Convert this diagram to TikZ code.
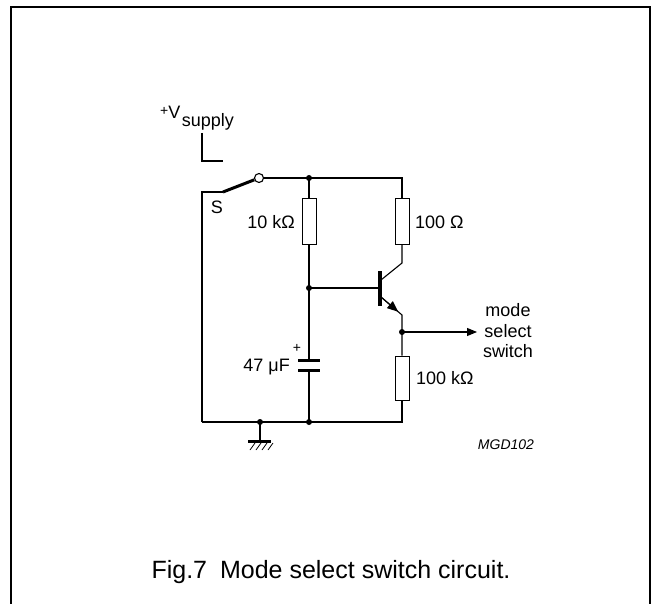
\documentclass[tikz,border=0pt]{standalone}
\usepackage{fontspec}
\setmainfont{Liberation Sans}
\usetikzlibrary{arrows.meta,calc}

\tikzset{
  wire/.style={line width=1.1pt},
  res/.style={draw,line width=1pt,minimum width=14pt,minimum height=45pt,inner sep=0pt},
  dot/.style={circle,fill,inner sep=0pt,minimum size=6pt},
  lbl/.style={font=\fontsize{18}{18}\selectfont,inner sep=0pt},
}

\begin{document}
\begin{tikzpicture}[x=1pt,y=-1pt]
\useasboundingbox (0,0) rectangle (653,604);

\draw[line width=1.5pt] (11,604) -- (11,7) -- (650,7) -- (650,604);

% points of the circuit
\coordinate (vs1) at (202,133);
\coordinate (vs2) at (202,161);
\coordinate (vs3) at (223,161);
\coordinate (sa) at (223,192);
\coordinate (sl) at (202,192);
\node[circle,draw,line width=1.1pt,minimum size=9pt,inner sep=0pt] (sw) at (259,178) {};
\coordinate (jt) at (309,178);
\coordinate (ct) at (402,178);
\node[res] (r1) at (309,221.5) {};
\node[res] (r2) at (402,221.5) {};
\coordinate (jb) at (309,288);
\coordinate (bb) at (380,288);
\coordinate (bt) at (380,271);
\coordinate (bl) at (380,306);
\coordinate (c1) at (402,263);
\coordinate (c2) at (381,280);
\coordinate (e1) at (381,297);
\coordinate (e2) at (402,315);
\coordinate (je) at (402,332);
\coordinate (out) at (477,332);
\node[res,minimum height=44pt] (r3) at (402,378) {};
\coordinate (cp1) at (309,360);
\coordinate (cp2) at (309,370);
\coordinate (gr) at (402,422);
\coordinate (gc) at (309,422);
\coordinate (gg) at (260,422);
\coordinate (gl) at (202,422);
\coordinate (gb) at (260,441);

% supply and switch
\draw[wire] (vs1) -- (vs2) -- (vs3);
\draw[wire] (gl) -- (sl) -- (sa);
\draw[line width=3pt] (sa) -- (sw.201);
\draw[wire] (sw.east) -- (jt) -- (ct) -- (r2.north);

% left branch
\draw[wire] (jt) -- (r1.north);
\draw[wire] (r1.south) -- (jb) -- (cp1);
\draw[line width=3pt] ($(cp1)+(-11,0)$) -- ($(cp1)+(11,0)$);
\draw[line width=3pt] ($(cp2)+(-11,0)$) -- ($(cp2)+(11,0)$);
\draw[wire] (cp2) -- (gc);

% transistor
\draw[wire] (jb) -- (bb);
\draw[line width=4pt] (bt) -- (bl);
\draw[wire] (r2.south) -- (c1) -- (c2);
\draw[wire] (e1) -- (e2) -- (je) -- (r3.north);
\draw[wire,-{Triangle[length=11pt,width=9pt]}] (e1) -- ($(e1)!0.82!(e2)$);
\draw[wire,-{Triangle[length=10pt,width=8pt]}] (je) -- (out);

% ground
\draw[wire] (r3.south) -- (gr) -- (gc) -- (gg) -- (gl);
\draw[wire] (gg) -- (gb);
\draw[line width=3pt] ($(gb)+(-12,0)$) -- ($(gb)+(11,0)$);
\foreach \x in {250,256,262,268}
  \draw[line width=0.8pt] (\x,450) -- (\x+5,443);

\foreach \p in {jt,jb,je,gc,gg}
  \node[dot] at (\p) {};

% labels
\node[anchor=base west,inner sep=0pt] (vlbl) at (160,119)
  {\fontsize{14}{14}\selectfont\raisebox{3pt}{+}\fontsize{18}{18}\selectfont V\kern1.5pt\raisebox{-8pt}{supply}};
\node[lbl,anchor=base] (slbl) at (217,214) {S};
\node[lbl,anchor=base east] (r1lbl) at (295,228.5) {10 kΩ};
\node[lbl,anchor=base west] (r2lbl) at (415,228.5) {100 Ω};
\node[lbl,anchor=base east] (clbl) at (290,371.5) {47 μF};
\node[font=\fontsize{14}{14}\selectfont,inner sep=0pt] (cplus) at (297,348) {+};
\node[lbl,anchor=base west] (r3lbl) at (416,384.5) {100 kΩ};
\node[lbl,align=center,font=\fontsize{18}{20.5}\selectfont] (olbl) at (508,331) {mode\\select\\switch};
\node[font=\fontsize{14}{14}\selectfont\itshape,inner sep=0pt] (code) at (506,445) {MGD102};
\node[font=\fontsize{25}{25}\selectfont,anchor=base,inner sep=0pt] (cap) at (331,578) {Fig.7\kern6pt\ Mode select switch circuit.};
\end{tikzpicture}
\end{document}
